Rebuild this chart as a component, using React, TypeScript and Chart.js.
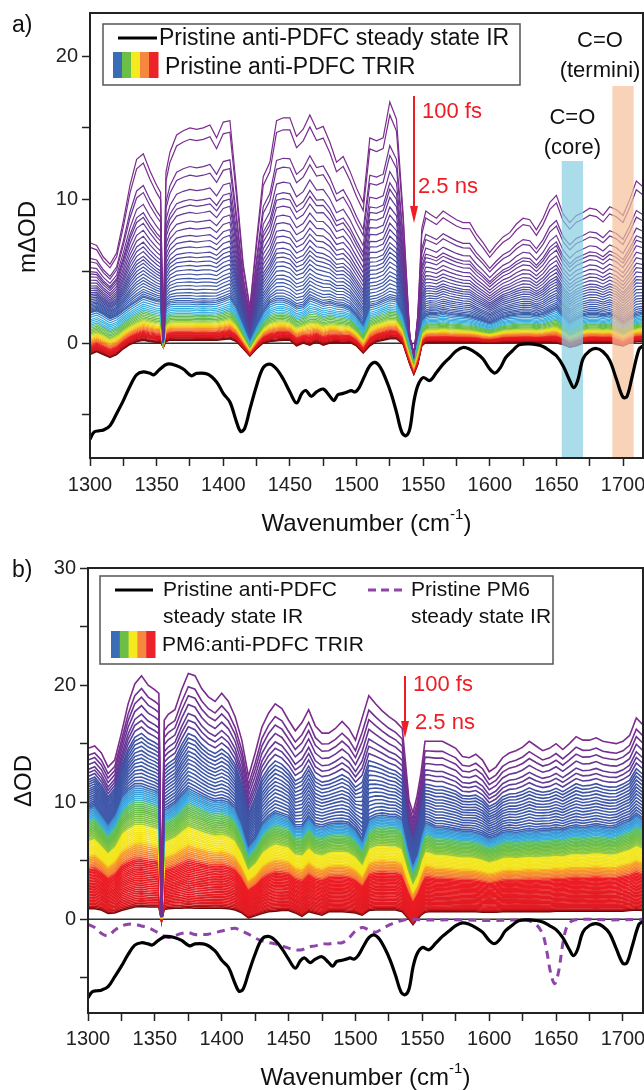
import React, { useEffect, useRef } from 'react';
import { Chart, registerables } from 'chart.js';
Chart.register(...registerables);

const FONT = '"Liberation Sans", Arial, Helvetica, sans-serif';
Chart.defaults.font.family = FONT;

// ---------- DATA ----------
const WN = [1300,1305,1310,1315,1320,1325,1330,1335,1340,1345,1350,
  1353,1355,1357,
  1360,1365,1370,1375,1380,1385,1390,1395,1400,1405,1410,1415,1420,1425,1430,1435,1440,1445,1450,1455,1460,1465,1470,1475,1480,1485,1490,1495,1500,1505,1510,1515,1520,1525,1530,1535,
  1540,1543,1546,1549,1552,
  1555,1560,1565,1570,1575,1580,1585,1590,1595,1600,1605,1610,1615,1620,1625,1630,1635,1640,1645,1650,1655,1660,1665,1670,1675,1680,1685,1690,1695,1700,1705,1710,1715];

// panel a: 100 fs spectrum, blue/cyan boundary spectrum, 2.5 ns spectrum (mOD)
const TOP_A = [7.0,6.8,6.0,5.5,6.3,8.5,11.0,12.8,13.2,12.0,11.0,
  10.5,0.3,11.9,
  13.3,14.5,14.8,15.0,14.9,15.0,15.2,14.3,15.4,15.5,10.7,5.5,2.5,7.2,11.6,12.6,15.5,15.7,15.7,14.4,14.9,15.9,14.9,15.1,14.0,12.6,13.0,12.0,10.8,9.8,14.3,14.1,14.3,16.8,15.6,9.0,
  0.5,-0.9,2.0,8.0,9.2,
  9.0,8.7,9.2,8.9,8.6,8.4,8.4,7.6,7.0,6.3,6.9,7.4,7.7,8.3,8.7,8.6,7.9,8.7,9.8,10.3,9.0,8.4,8.9,9.1,9.4,9.3,8.9,9.5,9.3,8.9,10.0,11.3,10.9];
const MID_A = [2.1,2.25,2.0,1.7,1.9,2.25,2.6,2.9,3.2,3.05,2.9,
  2.85,0.05,2.6,
  2.8,2.85,2.85,2.85,2.8,2.83,2.8,2.85,3.0,3.2,2.5,1.4,0.3,1.3,2.2,2.8,3.0,3.0,2.8,2.5,2.6,3.1,2.9,2.7,2.8,2.65,2.6,2.4,1.9,1.3,2.6,2.7,2.9,3.1,3.0,2.0,
  0.3,-0.65,0.6,1.6,1.9,
  2.0,2.0,2.1,2.0,1.95,1.9,1.85,1.7,1.55,1.4,1.6,1.8,1.9,1.95,2.0,2.0,1.9,2.0,2.2,2.4,1.9,1.4,1.7,1.9,2.0,2.0,1.9,2.0,1.8,1.4,1.7,2.0,2.1];
const LOW_A = [-0.8,-0.6,-0.8,-1.0,-0.8,-0.4,-0.1,0.1,0.2,0.1,0.05,
  0.05,-0.3,0.1,
  0.2,0.2,0.2,0.2,0.2,0.2,0.2,0.2,0.25,0.3,0.1,-0.4,-0.9,-0.4,0.0,0.1,0.15,0.2,0.2,-0.2,0.0,-0.15,0.1,-0.15,0.0,0.05,0.0,0.05,-0.2,-0.7,-0.2,0.1,0.2,0.3,0.3,-0.1,
  -1.5,-2.2,-1.5,-0.2,0.05,
  0.05,0.05,0.05,0.05,0.05,0.05,0.05,0.05,0.0,0.0,0.0,0.05,0.05,0.05,0.05,0.05,0.05,0.05,0.05,0.0,-0.1,-0.3,-0.2,0.0,0.05,0.05,0.05,0.05,-0.1,-0.2,0.0,0.1,0.1];
// level of every delay trace at 1385 cm-1 (100 fs -> 2.5 ns)
const LEVELS_A = [15.0,14.2,12.3,11.7,10.7,10.0,9.6,9.1,8.5,8.0,
  7.5,7.1,6.7,6.3,6.0,5.7,5.4,5.1,4.8,4.5,4.25,4.0,3.75,3.5,3.3,3.1,2.95,2.83,
  2.7,2.55,2.4,2.28,2.16,2.05,
  1.95,1.85,1.75,1.65,1.56,1.48,
  1.4,1.32,1.25,1.18,1.11,
  1.04,0.98,0.92,0.86,0.8,
  0.74,0.68,0.63,0.58,0.53,0.48,0.44,0.4,
  0.34,0.28,0.24,0.2];
const REF_A = 1385;

// panel b (OD)
const TOP_B = [14.6,14.8,14.2,13.0,13.6,15.9,18.4,20.1,20.8,20.0,19.6,
  19.3,0.2,17.0,
  17.5,17.9,19.6,21.0,20.8,19.7,19.0,18.6,19.3,18.6,17.3,15.3,12.2,14.2,16.4,17.6,18.4,18.0,17.0,16.1,16.8,17.9,16.5,15.9,15.9,16.3,16.9,16.3,15.3,17.2,19.1,18.4,17.8,17.3,16.9,16.3,
  10.2,9.1,10.5,12.5,15.2,
  15.2,15.2,15.2,14.9,14.6,13.9,13.8,14.1,13.6,12.6,13.0,13.8,14.2,14.4,14.7,15.2,14.8,14.4,14.6,15.0,14.5,15.0,15.6,15.3,15.3,15.5,15.2,15.1,15.0,15.2,15.7,17.2,16.6];
const MID_B = [9.5,9.8,9.0,8.2,9.0,10.5,11.1,11.5,11.5,11.3,11.1,
  10.9,0.2,9.4,
  9.6,10.0,10.7,11.3,11.0,10.7,10.4,10.2,10.3,10.1,9.6,8.2,6.3,7.0,8.2,8.8,9.2,9.0,8.8,8.0,8.0,8.8,8.1,8.0,8.2,8.3,8.3,8.2,7.7,6.8,8.6,8.9,9.0,8.9,8.9,8.6,
  6.0,4.8,5.6,7.2,8.3,
  8.2,7.9,7.9,7.8,7.7,7.6,7.6,7.5,7.3,7.0,7.2,7.5,7.6,7.5,7.6,7.7,7.6,7.7,7.7,7.8,7.7,7.9,8.0,7.9,8.0,8.1,8.0,7.9,8.0,8.3,8.5,9.0,8.6];
const LOW_B = [0.9,0.9,0.8,0.5,0.55,0.75,0.9,1.05,1.1,1.05,1.05,
  1.05,-0.1,0.85,
  0.9,0.95,0.95,1.0,0.95,0.95,0.95,0.95,0.95,0.9,0.8,0.55,0.12,0.3,0.5,0.65,0.7,0.75,0.75,0.55,0.25,0.65,0.5,0.35,0.65,0.65,0.65,0.6,0.55,0.35,0.75,0.8,0.8,0.8,0.8,0.65,
  0.0,-0.45,0.0,0.35,0.6,
  0.65,0.65,0.65,0.65,0.65,0.65,0.65,0.65,0.6,0.6,0.6,0.65,0.65,0.65,0.65,0.65,0.65,0.65,0.65,0.7,0.7,0.7,0.7,0.7,0.7,0.7,0.7,0.7,0.7,0.7,0.75,0.8,0.75];
// level of every delay trace at 1300 cm-1
const LEVELS_B = [14.6,14.0,13.6,13.2,12.8,12.5,12.2,
  11.9,11.7,11.5,11.3,11.1,10.92,10.74,10.56,10.38,10.2,10.03,9.86,9.7,9.55,9.4,
  9.25,9.1,8.96,8.82,8.68,8.54,8.4,
  8.26,8.12,7.98,7.84,7.7,7.56,7.42,7.28,7.14,7.0,6.86,6.72,
  6.58,6.44,6.3,6.16,6.02,5.88,5.74,5.6,5.46,
  5.32,5.18,5.04,4.9,4.76,4.62,4.48,4.34,
  4.2,4.07,3.94,3.81,3.68,3.55,3.42,3.29,3.16,3.03,2.9,2.77,2.64,2.51,2.38,2.25,2.12,1.99,1.86,1.73,1.6,1.48,1.36,1.24,1.12,
  1.0,0.9];
const REF_B = 1300;

// steady-state IR (scaled)
const IR_WN = [1300,1303,1307,1310,1315,1320,1325,1330,1335,1340,1345,1348,1352,1358,1365,1370,1376,1380,1388,1395,1400,1405,1410,1413,1416,1420,1425,1430,1435,1440,1445,1450,1455,1459,1462,1466,1470,1475,1480,1483,1486,1490,1493,1496,1499,1502,1506,1510,1514,1518,1522,1526,1530,1534,1537,1540,1543,1546,1550,1555,1560,1565,1570,1575,1580,1585,1590,1595,1600,1604,1608,1612,1617,1622,1630,1635,1640,1645,1650,1655,1660,1663,1666,1670,1675,1680,1685,1690,1695,1700,1703,1707,1712,1715];
const IR_ANTI = [-6.7,-6.2,-6.1,-6.05,-5.75,-4.9,-4.0,-3.0,-2.2,-2.0,-2.1,-2.2,-1.85,-1.46,-1.57,-1.8,-2.27,-2.1,-2.15,-2.7,-3.5,-4.1,-5.5,-6.15,-5.95,-4.6,-2.96,-1.7,-1.46,-1.8,-2.5,-3.4,-4.17,-3.5,-3.3,-3.7,-3.4,-3.2,-3.7,-4.0,-3.6,-3.5,-3.4,-3.3,-3.4,-3.1,-2.3,-1.57,-1.34,-1.7,-2.5,-3.5,-4.8,-6.2,-6.45,-5.97,-4.1,-2.96,-2.4,-2.6,-2.04,-1.46,-1.0,-0.53,-0.3,-0.42,-0.7,-1.1,-1.8,-2.08,-1.7,-1.0,-0.53,-0.12,-0.05,-0.1,-0.23,-0.53,-0.88,-1.57,-2.6,-3.1,-2.6,-1.1,-0.53,-0.37,-0.6,-1.2,-2.5,-3.77,-3.7,-2.27,-0.42,-0.2];
const PM6_WN = [1300,1305,1310,1315,1320,1325,1330,1335,1340,1345,1350,1355,1360,1365,1370,1375,1380,1385,1390,1395,1400,1405,1410,1415,1420,1425,1430,1435,1440,1445,1450,1455,1460,1465,1470,1475,1480,1485,1490,1495,1500,1505,1510,1515,1520,1525,1530,1535,1540,1550,1560,1580,1600,1620,1625,1630,1635,1640,1643,1646,1649,1652,1655,1658,1662,1670,1690,1715];
const IR_PM6 = [-0.42,-0.7,-1.2,-1.4,-0.93,-0.57,-0.42,-0.42,-0.57,-0.7,-1.0,-1.3,-1.56,-1.4,-1.2,-1.13,-1.3,-1.3,-1.27,-1.13,-1.0,-0.85,-0.76,-1.0,-1.27,-1.6,-1.84,-1.98,-2.1,-2.27,-2.46,-2.6,-2.6,-2.35,-2.27,-2.1,-2.1,-2.0,-2.0,-1.6,-1.0,-0.7,-0.9,-1.1,-0.8,-0.5,-0.25,-0.1,0.0,-0.05,-0.05,-0.05,-0.1,-0.05,0.0,-0.14,-0.42,-1.27,-2.7,-4.6,-5.5,-4.4,-2.1,-0.65,-0.14,0.0,-0.05,0.0];

const X_TICKS = [1300,1325,1350,1375,1400,1425,1450,1475,1500,1525,1550,1575,1600,1625,1650,1675,1700];
const Y_TICKS_A = [-5,0,5,10,15,20];
const Y_TICKS_B = [-5,0,5,10,15,20,25,30];
const CORE_BAND = [1654, 1670];
const TERMINI_BAND = [1692, 1708];

// colour ramps: [level at reference wavenumber, colour]
const STOPS_A: [number, string][] = [
  [0.2,'#6a0b0b'],[0.3,'#9b0f12'],[0.42,'#d8141c'],[0.74,'#ec1c24'],[0.86,'#f26b30'],[1.02,'#f5893a'],[1.12,'#f9b91b'],[1.3,'#f2e41c'],[1.45,'#b5d334'],[1.6,'#6abd45'],[1.95,'#62bc55'],[2.05,'#3fb6d8'],[2.5,'#34a9e0'],[2.8,'#3c62ae'],[5.0,'#4150a2'],[8.0,'#603a98'],[15.0,'#7b2c8d']];
const STOPS_B: [number, string][] = [
  [0.9,'#6a0b0b'],[1.0,'#a50f14'],[1.24,'#e01b22'],[4.2,'#ee1c24'],[4.5,'#f47b3a'],[5.2,'#f7a21f'],[5.5,'#f4e31c'],[6.6,'#f2e81e'],[6.75,'#8dc63f'],[7.6,'#6abd45'],[8.3,'#5cbf6a'],[8.45,'#37b2e4'],[9.25,'#3f8fd0'],[9.45,'#3e5bab'],[11.9,'#3f52a4'],[12.2,'#5c3d99'],[14.6,'#7b2c8d']];
const SWATCH = ['#3b6db6','#6bbf47','#f4ea1e','#f6873e','#ee2229'];

// ---------- helpers ----------
function hexRgb(h: string) { const n = parseInt(h.slice(1), 16); return [(n >> 16) & 255, (n >> 8) & 255, n & 255]; }
function colorFor(level: number, stops: [number, string][]) {
  const s = [...stops].sort((a, b) => a[0] - b[0]);
  if (level <= s[0][0]) return s[0][1];
  if (level >= s[s.length - 1][0]) return s[s.length - 1][1];
  for (let i = 0; i < s.length - 1; i++) {
    const [l0, c0] = s[i]; const [l1, c1] = s[i + 1];
    if (level >= l0 && level <= l1) {
      const t = (level - l0) / (l1 - l0); const a = hexRgb(c0); const b = hexRgb(c1);
      return `rgb(${Math.round(a[0] + t * (b[0] - a[0]))},${Math.round(a[1] + t * (b[1] - a[1]))},${Math.round(a[2] + t * (b[2] - a[2]))})`;
    }
  }
  return s[0][1];
}
function traceFor(level: number, refWn: number, low: number[], mid: number[], top: number[]) {
  const r = WN.indexOf(refWn);
  if (level >= mid[r]) { const t = (level - mid[r]) / (top[r] - mid[r]); return mid.map((m, i) => m + t * (top[i] - m)); }
  const t = (level - low[r]) / (mid[r] - low[r]);
  return low.map((l, i) => l + t * (mid[i] - l));
}
function trirDatasets(levels: number[], refWn: number, low: number[], mid: number[], top: number[], stops: [number, string][], width: number) {
  return levels.map((lv) => {
    const tr = traceFor(lv, refWn, low, mid, top);
    return { data: WN.map((x, i) => ({ x, y: tr[i] })), borderColor: colorFor(lv, stops), borderWidth: width, pointRadius: 0, fill: false, tension: 0 };
  });
}
function txt(ctx: CanvasRenderingContext2D, s: string, x: number, y: number, size: number, align: CanvasTextAlign = 'left', color = '#111') {
  ctx.save(); ctx.font = `${size}px ${FONT}`; ctx.fillStyle = color; ctx.textAlign = align; ctx.textBaseline = 'middle'; ctx.fillText(s, x, y); ctx.restore();
}
function arrow(ctx: CanvasRenderingContext2D, x: number, y1: number, y2: number) {
  ctx.save(); ctx.strokeStyle = '#ee1c24'; ctx.fillStyle = '#ee1c24'; ctx.lineWidth = 2;
  ctx.beginPath(); ctx.moveTo(x, y1); ctx.lineTo(x, y2 - 14); ctx.stroke();
  ctx.beginPath(); ctx.moveTo(x - 4, y2 - 17); ctx.lineTo(x + 4, y2 - 17); ctx.lineTo(x, y2); ctx.closePath(); ctx.fill(); ctx.restore();
}
function swatch(ctx: CanvasRenderingContext2D, x: number, y: number, w: number, h: number) {
  const sw = w / SWATCH.length;
  SWATCH.forEach((c, i) => { ctx.fillStyle = c; ctx.fillRect(x + i * sw, y, sw + 0.5, h); });
}
function xTitle(ctx: CanvasRenderingContext2D, cx: number, y: number) {
  ctx.save(); ctx.fillStyle = '#111'; ctx.textBaseline = 'middle';
  const a = 'Wavenumber (cm'; const sup = '-1'; const b = ')';
  ctx.font = `24px ${FONT}`; const wa = ctx.measureText(a).width; const wb = ctx.measureText(b).width;
  ctx.font = `15px ${FONT}`; const ws = ctx.measureText(sup).width;
  const x0 = cx - (wa + ws + wb) / 2;
  ctx.font = `24px ${FONT}`; ctx.textAlign = 'left'; ctx.fillText(a, x0, y);
  ctx.font = `15px ${FONT}`; ctx.fillText(sup, x0 + wa, y - 9);
  ctx.font = `24px ${FONT}`; ctx.fillText(b, x0 + wa + ws, y);
  ctx.restore();
}
function yTitle(ctx: CanvasRenderingContext2D, s: string, x: number, y: number) {
  ctx.save(); ctx.translate(x, y); ctx.rotate(-Math.PI / 2); ctx.font = `24px ${FONT}`; ctx.fillStyle = '#111'; ctx.textAlign = 'center'; ctx.textBaseline = 'middle'; ctx.fillText(s, 0, 0); ctx.restore();
}

function makeOptions(yMin: number, yMax: number, yTicks: number[], axisW: number, xAxisH: number, topPad: number, xPad: number): any {
  const grid = { display: true, drawOnChartArea: false, drawTicks: true, tickLength: 8, tickWidth: 1.5, tickColor: '#222' };
  return {
    responsive: false, animation: false, events: [],
    layout: { padding: { left: 0, top: topPad, right: 1, bottom: 0 } },
    plugins: { legend: { display: false }, tooltip: { enabled: false }, title: { display: false } },
    scales: {
      x: {
        type: 'linear', min: 1300, max: 1715,
        afterBuildTicks: (s: any) => { s.ticks = X_TICKS.map((v) => ({ value: v })); },
        afterFit: (s: any) => { s.height = xAxisH; s.paddingLeft = 0; s.paddingRight = 0; },
        ticks: { autoSkip: false, maxRotation: 0, minRotation: 0, padding: xPad, color: '#222', font: { size: 20, family: FONT }, callback: (v: number) => (v % 50 === 0 ? String(v) : '') },
        grid, border: { display: true, color: '#222', width: 2 },
      },
      y: {
        type: 'linear', min: yMin, max: yMax,
        afterBuildTicks: (s: any) => { s.ticks = yTicks.map((v) => ({ value: v })); },
        afterFit: (s: any) => { s.width = axisW; s.paddingTop = 0; s.paddingBottom = 0; },
        ticks: { padding: 4, color: '#222', font: { size: 20, family: FONT }, callback: (v: number) => (v % 10 === 0 ? String(v) : '') },
        grid, border: { display: true, color: '#222', width: 2 },
      },
    },
  };
}

const frameAndZero = {
  id: 'frameZero',
  beforeDatasetsDraw(chart: any) {
    const { ctx, chartArea: a, scales } = chart; const y0 = scales.y.getPixelForValue(0);
    ctx.save(); ctx.strokeStyle = '#333'; ctx.lineWidth = 1.5; ctx.beginPath(); ctx.moveTo(a.left, y0); ctx.lineTo(a.right, y0); ctx.stroke(); ctx.restore();
  },
  afterDraw(chart: any) {
    const { ctx, chartArea: a } = chart;
    ctx.save(); ctx.strokeStyle = '#222'; ctx.lineWidth = 2; ctx.strokeRect(a.left, a.top, a.right - a.left, a.bottom - a.top); ctx.restore();
  },
};

export default function App() {
  const refA = useRef<HTMLCanvasElement>(null);
  const refB = useRef<HTMLCanvasElement>(null);
  useEffect(() => {
    document.body.style.margin = '0';
    const irA = { data: IR_WN.map((x, i) => ({ x, y: IR_ANTI[i] })), borderColor: '#000', borderWidth: 3.2, pointRadius: 0, fill: false, tension: 0.35 };
    const decoA = {
      id: 'decoA',
      afterDatasetDraw(chart: any, args: any) {
        if (args.index !== 1) return;
        const { ctx, chartArea: a, scales } = chart; const x = scales.x;
        ctx.save();
        ctx.fillStyle = 'rgba(134,205,225,0.7)';
        const c0 = x.getPixelForValue(CORE_BAND[0]); const c1 = x.getPixelForValue(CORE_BAND[1]);
        ctx.fillRect(c0, 161, c1 - c0, a.bottom - 161);
        ctx.fillStyle = 'rgba(245,192,154,0.7)';
        const t0 = x.getPixelForValue(TERMINI_BAND[0]); const t1 = x.getPixelForValue(TERMINI_BAND[1]);
        ctx.fillRect(t0, 86, t1 - t0, a.bottom - 86);
        ctx.restore();
      },
      afterDraw(chart: any) {
        const { ctx, chartArea: a, scales } = chart;
        txt(ctx, 'a)', 12, 26, 23);
        ctx.save(); ctx.fillStyle = '#fff'; ctx.fillRect(103, 24, 417, 61); ctx.strokeStyle = '#555'; ctx.lineWidth = 1.5; ctx.strokeRect(103, 24, 417, 61); ctx.restore();
        ctx.save(); ctx.strokeStyle = '#000'; ctx.lineWidth = 3; ctx.beginPath(); ctx.moveTo(118, 38); ctx.lineTo(157, 38); ctx.stroke(); ctx.restore();
        txt(ctx, 'Pristine anti-PDFC steady state IR', 159, 39, 23);
        swatch(ctx, 113, 52, 45, 26);
        txt(ctx, 'Pristine anti-PDFC TRIR', 165, 68, 23);
        arrow(ctx, 414, 96, 223);
        txt(ctx, '100 fs', 422, 112, 22, 'left', '#ee1c24');
        txt(ctx, '2.5 ns', 418, 187, 22, 'left', '#ee1c24');
        const cc = (scales.x.getPixelForValue(CORE_BAND[0]) + scales.x.getPixelForValue(CORE_BAND[1])) / 2;
        const tc = (scales.x.getPixelForValue(TERMINI_BAND[0]) + scales.x.getPixelForValue(TERMINI_BAND[1])) / 2;
        txt(ctx, 'C=O', cc, 118, 22, 'center');
        txt(ctx, '(core)', cc, 148, 22, 'center');
        txt(ctx, 'C=O', tc - 23, 41, 22, 'center');
        txt(ctx, '(termini)', tc - 23, 71, 22, 'center');
        xTitle(ctx, (a.left + a.right) / 2, 524);
        yTitle(ctx, 'm\u0394OD', 28, 237);
      },
    };
    const chartA = new Chart(refA.current as HTMLCanvasElement, {
      type: 'line',
      data: { datasets: [irA, ...trirDatasets(LEVELS_A, REF_A, LOW_A, MID_A, TOP_A, STOPS_A, 1.2)] as any },
      options: makeOptions(-8, 23, Y_TICKS_A, 90, 87, 13, 7),
      plugins: [frameAndZero, decoA],
    });

    const irB = { data: IR_WN.map((x, i) => ({ x, y: IR_ANTI[i] })), borderColor: '#000', borderWidth: 3.2, pointRadius: 0, fill: false, tension: 0.35 };
    const pm6 = { data: PM6_WN.map((x, i) => ({ x, y: IR_PM6[i] })), borderColor: '#8e44a8', borderWidth: 3, borderDash: [8, 6], pointRadius: 0, fill: false, tension: 0.35 };
    const decoB = {
      id: 'decoB',
      afterDraw(chart: any) {
        const { ctx, chartArea: a } = chart;
        txt(ctx, 'b)', 12, 26, 23);
        ctx.save(); ctx.fillStyle = '#fff'; ctx.fillRect(100, 31, 453, 88); ctx.strokeStyle = '#555'; ctx.lineWidth = 1.5; ctx.strokeRect(100, 31, 453, 88); ctx.restore();
        ctx.save(); ctx.strokeStyle = '#000'; ctx.lineWidth = 3; ctx.beginPath(); ctx.moveTo(115, 45); ctx.lineTo(153, 45); ctx.stroke();
        ctx.strokeStyle = '#8e44a8'; ctx.setLineDash([8, 5]); ctx.beginPath(); ctx.moveTo(368, 45); ctx.lineTo(405, 45); ctx.stroke(); ctx.restore();
        txt(ctx, 'Pristine anti-PDFC', 163, 45, 21);
        txt(ctx, 'steady state IR', 163, 72, 21);
        txt(ctx, 'Pristine PM6', 411, 45, 21);
        txt(ctx, 'steady state IR', 411, 72, 21);
        swatch(ctx, 111, 86, 44, 27);
        txt(ctx, 'PM6:anti-PDFC TRIR', 162, 100, 21);
        arrow(ctx, 405, 131, 193);
        txt(ctx, '100 fs', 413, 140, 22, 'left', '#ee1c24');
        txt(ctx, '2.5 ns', 415, 178, 22, 'left', '#ee1c24');
        xTitle(ctx, (a.left + a.right) / 2, 533);
        yTitle(ctx, '\u0394OD', 24, 236);
      },
    };
    const chartB = new Chart(refB.current as HTMLCanvasElement, {
      type: 'line',
      data: { datasets: [irB, pm6, ...trirDatasets(LEVELS_B, REF_B, LOW_B, MID_B, TOP_B, STOPS_B, 1.6)] as any },
      options: makeOptions(-8, 30, Y_TICKS_B, 88, 77, 23, 6),
      plugins: [frameAndZero, decoB],
    });
    return () => { chartA.destroy(); chartB.destroy(); };
  }, []);
  return (
    <div style={{ width: 644, height: 1090, background: '#fff' }}>
      <canvas ref={refA} width={644} height={545} style={{ display: 'block', width: 644, height: 545 }} />
      <canvas ref={refB} width={644} height={545} style={{ display: 'block', width: 644, height: 545 }} />
    </div>
  );
}
